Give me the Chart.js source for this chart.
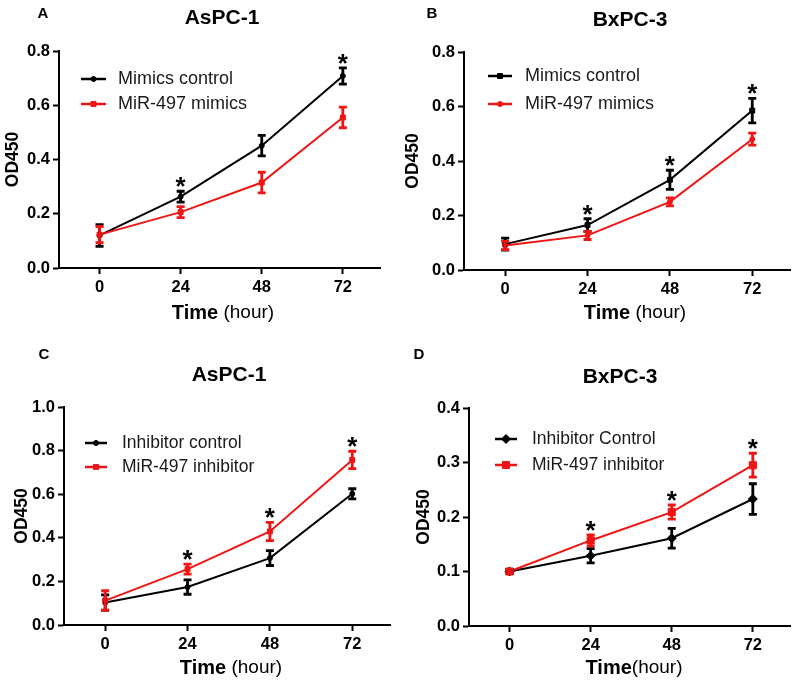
<!DOCTYPE html>
<html>
<head>
<meta charset="utf-8">
<title>MiR-497 proliferation</title>
<script src="https://cdn.jsdelivr.net/npm/chart.js@4.4.0/dist/chart.umd.min.js"></script>
<style>
  body { margin: 0; background: #fff; }
  #wrap { position: relative; width: 797px; height: 685px; }
  .panel { position: absolute; }
</style>
</head>
<body>
<div id="wrap">
  <div class="panel" style="left:0;top:0;width:398px;height:330px"><canvas id="chartA"></canvas></div>
  <div class="panel" style="left:398px;top:0;width:399px;height:330px"><canvas id="chartB"></canvas></div>
  <div class="panel" style="left:0;top:330px;width:398px;height:355px"><canvas id="chartC"></canvas></div>
  <div class="panel" style="left:398px;top:330px;width:399px;height:355px"><canvas id="chartD"></canvas></div>
</div>
<script>
'use strict';
// time points (hours)
const hours = [0, 24, 48, 72];

// A - AsPC-1, mimics
const aControl = [0.12, 0.263, 0.451, 0.708];
const aControlErr = [0.04, 0.02, 0.038, 0.03];
const aMimics = [0.123, 0.206, 0.315, 0.555];
const aMimicsErr = [0.03, 0.02, 0.038, 0.038];
const aStars = [24, 72];

// B - BxPC-3, mimics
const bControl = [0.095, 0.165, 0.331, 0.585];
const bControlErr = [0.022, 0.023, 0.035, 0.045];
const bMimics = [0.09, 0.127, 0.25, 0.48];
const bMimicsErr = [0.015, 0.015, 0.015, 0.022];
const bStars = [24, 48, 72];

// C - AsPC-1, inhibitor
const cControl = [0.103, 0.174, 0.307, 0.602];
const cControlErr = [0.035, 0.033, 0.034, 0.023];
const cInhib = [0.112, 0.256, 0.429, 0.757];
const cInhibErr = [0.045, 0.023, 0.042, 0.04];
const cStars = [24, 48, 72];

// D - BxPC-3, inhibitor
const dControl = [0.1, 0.129, 0.161, 0.233];
const dControlErr = [0.004, 0.013, 0.018, 0.028];
const dInhib = [0.1, 0.157, 0.209, 0.295];
const dInhibErr = [0.004, 0.01, 0.013, 0.022];
const dStars = [24, 48, 72];

const FONT = '"Liberation Sans", Arial, sans-serif';
const BLACK = '#000000';
const RED = '#f01414';

Chart.defaults.font.family = FONT;
Chart.defaults.color = '#000';

function series(label, values, errors, color, pointStyle, radius, order) {
  return {
    label: label,
    data: hours.map((h, i) => ({ x: h, y: values[i] })),
    errors: errors,
    borderColor: color,
    backgroundColor: color,
    borderWidth: 2,
    pointStyle: pointStyle,
    pointRadius: radius,
    pointBorderWidth: 1,
    pointHoverRadius: radius,
    fill: false,
    tension: 0,
    order: order
  };
}

function makePanel(id, panel, datasets, yMax, yStep, stars) {
  const figure = {
    id: 'figure' + id,
    afterDatasetsDraw(chart) {
      const ctx = chart.ctx;
      const xs = chart.scales.x;
      const ys = chart.scales.y;
      // error bars
      chart.data.datasets.forEach(ds => {
        ctx.save();
        ctx.strokeStyle = ds.borderColor;
        ctx.lineWidth = 2.8;
        ds.data.forEach((p, j) => {
          const x = xs.getPixelForValue(p.x);
          const yT = ys.getPixelForValue(p.y + ds.errors[j]);
          const yB = ys.getPixelForValue(p.y - ds.errors[j]);
          ctx.beginPath();
          ctx.moveTo(x, yT); ctx.lineTo(x, yB);
          ctx.moveTo(x - 4, yT); ctx.lineTo(x + 4, yT);
          ctx.moveTo(x - 4, yB); ctx.lineTo(x + 4, yB);
          ctx.stroke();
        });
        ctx.restore();
      });
      // significance stars
      ctx.save();
      ctx.fillStyle = '#000';
      ctx.font = 'bold 26px ' + FONT;
      ctx.textAlign = 'center';
      ctx.textBaseline = 'alphabetic';
      stars.forEach(h => {
        const j = hours.indexOf(h);
        let top = Infinity;
        chart.data.datasets.forEach(ds => {
          top = Math.min(top, ys.getPixelForValue(ds.data[j].y + ds.errors[j]));
        });
        ctx.fillText('*', xs.getPixelForValue(h), top - 11 + 0.58 * 26);
      });
      ctx.restore();
    },
    afterDraw(chart) {
      const ctx = chart.ctx;
      ctx.save();
      ctx.fillStyle = '#000';
      ctx.textBaseline = 'middle';
      // panel letter
      ctx.textAlign = 'center';
      ctx.font = 'bold 15px ' + FONT;
      ctx.fillText(panel.letter.text, panel.letter.x, panel.letter.y);
      // panel title
      ctx.font = 'bold 21px ' + FONT;
      ctx.fillText(panel.title.text, panel.title.x, panel.title.y);
      // x axis title, bold + regular part
      ctx.textAlign = 'left';
      ctx.font = 'bold 20px ' + FONT;
      const w1 = ctx.measureText(panel.xTitle.bold).width;
      ctx.font = '19px ' + FONT;
      const w2 = ctx.measureText(panel.xTitle.rest).width;
      const x0 = panel.xTitle.x - (w1 + w2) / 2;
      ctx.font = 'bold 20px ' + FONT;
      ctx.fillText(panel.xTitle.bold, x0, panel.xTitle.y);
      ctx.font = '19px ' + FONT;
      ctx.fillText(panel.xTitle.rest, x0 + w1, panel.xTitle.y);
      // legend
      const lg = panel.legend;
      chart.data.datasets.forEach((ds, i) => {
        const cy = lg.y + i * lg.gap;
        ctx.strokeStyle = ds.borderColor;
        ctx.fillStyle = ds.backgroundColor;
        ctx.lineWidth = 2.5;
        ctx.beginPath();
        ctx.moveTo(lg.x, cy); ctx.lineTo(lg.x + lg.len, cy);
        ctx.stroke();
        ctx.lineWidth = 1;
        Chart.helpers.drawPoint(ctx, {
          pointStyle: ds.pointStyle, radius: ds.pointRadius, rotation: 0, borderWidth: 1
        }, lg.x + lg.len / 2, cy);
        ctx.fillStyle = '#1a1a1a';
        ctx.font = lg.size + 'px ' + FONT;
        ctx.fillText(ds.label, lg.textX, cy);
      });
      ctx.restore();
    }
  };

  return new Chart(document.getElementById(id), {
    type: 'line',
    data: { datasets: datasets },
    options: {
      responsive: true,
      maintainAspectRatio: false,
      animation: false,
      layout: {
        padding: { left: 0, top: panel.area.top, right: panel.width - panel.area.right, bottom: 0 }
      },
      plugins: {
        legend: { display: false },
        tooltip: { enabled: false }
      },
      scales: {
        x: {
          type: 'linear',
          min: -12,
          max: 83,
          afterBuildTicks: s => { s.ticks = hours.map(h => ({ value: h })); },
          afterFit: s => { s.height = panel.height - panel.area.bottom; },
          grid: { drawOnChartArea: false, drawTicks: true, tickLength: 6, tickWidth: 2, tickColor: '#000' },
          border: { display: true, width: 2, color: '#000' },
          ticks: { font: { size: 16.5, weight: 'bold' }, color: '#000', padding: 4, maxRotation: 0 }
        },
        y: {
          min: 0,
          max: yMax,
          afterFit: s => { s.width = panel.area.left; },
          grid: { drawOnChartArea: false, drawTicks: true, tickLength: 6, tickWidth: 2, tickColor: '#000' },
          border: { display: true, width: 2, color: '#000' },
          ticks: {
            stepSize: yStep,
            font: { size: 16.5, weight: 'bold' },
            color: '#000',
            padding: 3,
            callback: v => v.toFixed(1)
          },
          title: {
            display: true,
            text: 'OD450',
            font: { size: 17.5, weight: 'bold' },
            color: '#000',
            padding: { top: panel.yTitleX - 10.5, bottom: 0 }
          }
        }
      }
    },
    plugins: [figure]
  });
}

makePanel('chartA', {
  width: 398, height: 330,
  area: { left: 59, top: 51, right: 380, bottom: 268 },
  letter: { text: 'A', x: 43, y: 14 },
  title: { text: 'AsPC-1', x: 222, y: 18 },
  xTitle: { bold: 'Time', rest: ' (hour)', x: 223, y: 313 },
  yTitleX: 13,
  legend: { x: 81, len: 25, textX: 118, y: 79, gap: 25, size: 18 }
}, [
  series('Mimics control', aControl, aControlErr, BLACK, 'circle', 2.5, 1),
  series('MiR-497 mimics', aMimics, aMimicsErr, RED, 'rect', 3.5, 0)
], 0.8, 0.2, aStars);

makePanel('chartB', {
  width: 399, height: 330,
  area: { left: 66, top: 52, right: 392, bottom: 270 },
  letter: { text: 'B', x: 34, y: 14 },
  title: { text: 'BxPC-3', x: 232, y: 20 },
  xTitle: { bold: 'Time', rest: ' (hour)', x: 237, y: 313 },
  yTitleX: 15,
  legend: { x: 90, len: 24, textX: 127, y: 76, gap: 28, size: 18 }
}, [
  series('Mimics control', bControl, bControlErr, BLACK, 'rect', 3.5, 1),
  series('MiR-497 mimics', bMimics, bMimicsErr, RED, 'circle', 2.5, 0)
], 0.8, 0.2, bStars);

makePanel('chartC', {
  width: 398, height: 355,
  area: { left: 64, top: 77, right: 390, bottom: 295 },
  letter: { text: 'C', x: 44, y: 25 },
  title: { text: 'AsPC-1', x: 229, y: 45 },
  xTitle: { bold: 'Time', rest: ' (hour)', x: 231, y: 338 },
  yTitleX: 22,
  legend: { x: 85, len: 22, textX: 122, y: 113, gap: 24, size: 17.5 }
}, [
  series('Inhibitor control', cControl, cControlErr, BLACK, 'circle', 2.5, 1),
  series('MiR-497 inhibitor', cInhib, cInhibErr, RED, 'rect', 3.5, 0)
], 1.0, 0.2, cStars);

makePanel('chartD', {
  width: 399, height: 355,
  area: { left: 71, top: 78, right: 392, bottom: 296 },
  letter: { text: 'D', x: 21, y: 25 },
  title: { text: 'BxPC-3', x: 222, y: 47 },
  xTitle: { bold: 'Time', rest: '(hour)', x: 236, y: 338 },
  yTitleX: 26,
  legend: { x: 97, len: 22, textX: 134, y: 109, gap: 26, size: 17.5 }
}, [
  series('Inhibitor Control', dControl, dControlErr, BLACK, 'rectRot', 4.5, 1),
  series('MiR-497 inhibitor', dInhib, dInhibErr, RED, 'rect', 5, 0)
], 0.4, 0.1, dStars);
</script>
</body>
</html>
